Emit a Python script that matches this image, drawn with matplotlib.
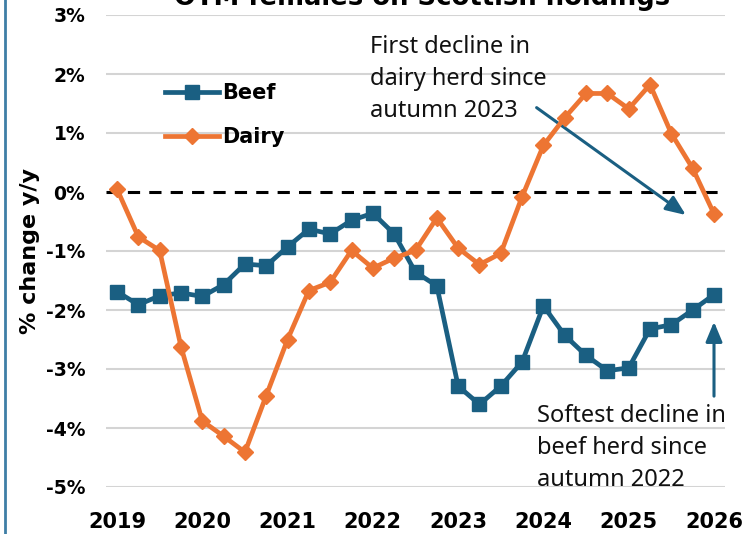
import matplotlib
matplotlib.use("Agg")
import matplotlib.pyplot as plt
import numpy as np

title = "OTM females on Scottish holdings"
years = [2019, 2020, 2021, 2022, 2023, 2024, 2025, 2026]
y_ticks = [3, 2, 1, 0, -1, -2, -3, -4, -5]

beef = [-1.69, -1.91, -1.76, -1.71, -1.77, -1.57, -1.22, -1.25, -0.93, -0.63,
        -0.71, -0.48, -0.36, -0.71, -1.36, -1.59, -3.29, -3.60, -3.29, -2.88,
        -1.93, -2.43, -2.77, -3.03, -2.98, -2.32, -2.25, -2.00, -1.74]
dairy = [0.05, -0.76, -0.99, -2.62, -3.88, -4.14, -4.41, -3.45, -2.50, -1.67,
         -1.53, -0.99, -1.29, -1.12, -0.99, -0.44, -0.95, -1.23, -1.04, -0.08,
         0.79, 1.26, 1.67, 1.67, 1.41, 1.82, 0.99, 0.40, -0.37]
x = [2019 + i * 0.25 for i in range(len(beef))]

note_dairy = "First decline in\ndairy herd since\nautumn 2023"
note_beef = "Softest decline in\nbeef herd since\nautumn 2022"

BEEF = "#1a5f82"
DAIRY = "#ed7533"

plt.rcParams['font.family'] = ['DejaVu Sans']

fig = plt.figure(figsize=(7.44, 5.34), dpi=100)
ax = fig.add_axes([106/744, 1-487/534, (725-106)/744, (487-15)/534])

ax.set_xlim(2019 - 11/85.3, 2026 + 11/85.3)
ax.set_ylim(-5, 3)

for t in y_ticks:
    if t != 0:
        ax.axhline(t, color="#d4d4d4", lw=1.5, zorder=0)
ax.axhline(0, color="black", lw=2.2, ls=(0, (4, 3)), zorder=1)

ax.plot(x, beef, color=BEEF, lw=3.4, marker='s', ms=9.5, label="Beef", zorder=3)
ax.plot(x, dairy, color=DAIRY, lw=3.4, marker='D', ms=8, label="Dairy", zorder=4)

for s in ax.spines.values():
    s.set_visible(False)
ax.set_yticks(y_ticks)
ax.set_yticklabels([f"{t}%" for t in y_ticks], fontsize=13.5, fontweight='bold')
ax.set_xticks(years)
ax.set_xticklabels([str(y) for y in years], fontsize=15, fontweight='bold')
ax.tick_params(length=0)
ax.tick_params(axis='y', pad=15)
ax.tick_params(axis='x', pad=18)
ax.set_ylabel("% change y/y", fontsize=16, fontweight='bold', labelpad=4)

leg = ax.legend(loc='upper left', bbox_to_anchor=(0.065, 0.895), frameon=False,
                prop={'size': 15, 'weight': 'bold'}, handlelength=2.6,
                handletextpad=0.15, labelspacing=1.15)

ann_font = dict(fontsize=17, family=['Noto Sans', 'DejaVu Sans'], color='#111111',
                linespacing=1.45)
ax.text((370 - 106) / 619, 1 - (35 - 15) / 472, note_dairy, transform=ax.transAxes,
        va='top', ha='left', **ann_font)
ax.text((537 - 106) / 619, 1 - (404 - 15) / 472, note_beef, transform=ax.transAxes,
        va='top', ha='left', **ann_font)

arrow = dict(arrowstyle='-|>,head_length=1.2,head_width=0.5', color=BEEF, lw=2.2,
             shrinkA=0, shrinkB=0)
ax.annotate("", xy=(2025.67, -0.39), xytext=(2023.92, 1.43), arrowprops=arrow)
ax.annotate("", xy=(2026, -2.2), xytext=(2026, -3.46), arrowprops=arrow)

fig.text(422/744, 1 - 5/534, title, ha='center', va='baseline', fontsize=18.6,
         fontweight='bold')

fig.add_artist(plt.Line2D([5/744, 5/744], [0, 1], transform=fig.transFigure,
                          color='#3f7ea6', lw=2))

fig.savefig("out.png", dpi=100)
